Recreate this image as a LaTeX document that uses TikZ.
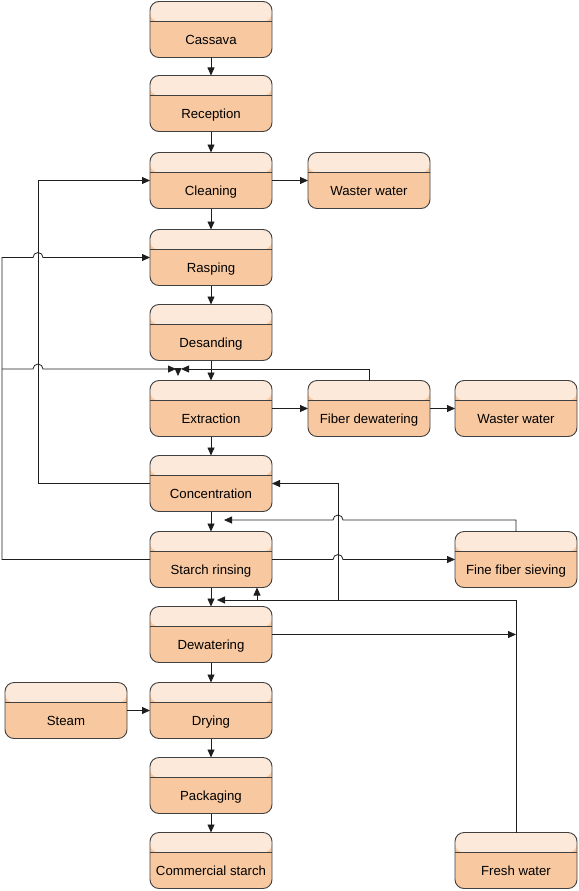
\documentclass[tikz,border=0pt]{standalone}
\usepackage{fontspec}
\setmainfont{Liberation Sans}
\usetikzlibrary{arrows.meta}
\usetikzlibrary{calc,positioning}

\definecolor{bandTop}{RGB}{252,233,218}
\definecolor{bandBody}{RGB}{248,200,160}
\definecolor{boxLine}{RGB}{64,64,64}
\definecolor{flowLine}{RGB}{30,30,30}

\begin{document}
\begin{tikzpicture}[x=1pt,y=-1pt]
    \def\boxWidth{122pt}
    \def\boxHeight{56pt}
    \def\bandHeight{20pt}
    \def\hop{5pt}

    \tikzstyle{stage}=[draw=boxLine,line width=0.9pt,rounded corners=9pt,fill=bandBody,
      minimum width=\boxWidth,minimum height=\boxHeight,inner sep=0pt,outer sep=0pt,
      text height=43pt,text depth=13pt,font=\fontsize{13.2pt}{15pt}\selectfont,
      path picture={
        \fill[bandTop] (path picture bounding box.north west) rectangle ([yshift=-\bandHeight]path picture bounding box.north east);
        \draw[boxLine,line width=0.9pt] ([yshift=-\bandHeight]path picture bounding box.north west) -- ([yshift=-\bandHeight]path picture bounding box.north east);
      }]

    \tikzstyle{flow}=[draw=flowLine,line width=0.8pt,-{Triangle[length=8pt,width=7pt]}]

    \useasboundingbox (0,0) rectangle (578,891);

    % Main line
    \node[stage] (cassava) at (211,29.5) {Cassava};
    \node[stage] (reception) at (211,103.5) {Reception};
    \node[stage] (cleaning) at (211,180.5) {Cleaning};
    \node[stage] (rasping) at (211,257.5) {Rasping};
    \node[stage] (desanding) at (211,332.5) {Desanding};
    \node[stage] (extraction) at (211,408.5) {Extraction};
    \node[stage] (concentration) at (211,483.5) {Concentration};
    \node[stage] (rinsing) at (211,559.5) {Starch rinsing};
    \node[stage] (dewatering) at (211,634.5) {Dewatering};
    \node[stage] (drying) at (211,710.5) {Drying};
    \node[stage] (packaging) at (211,785.5) {Packaging};
    \node[stage] (starch) at (211,860.5) {Commercial starch};

    % Side stages
    \node[stage] (wasteA) at (369,180.5) {Waster water};
    \node[stage] (fiberdew) at (369,408.5) {Fiber dewatering};
    \node[stage] (wasteB) at (516,408.5) {Waster water};
    \node[stage] (finefiber) at (516,559.5) {Fine fiber sieving};
    \node[stage] (fresh) at (516,860.5) {Fresh water};
    \node[stage] (steam) at (66,710.5) {Steam};

    % Buses and inlets
    \coordinate (leftBus) at (2,0);
    \coordinate (backBus) at (38,0);
    \coordinate (waterBus) at (338,0);
    \coordinate (washUp) at (257,0);
    \coordinate (pulpIn) at (178,369);
    \coordinate (milkIn) at (224,520);
    \coordinate (washIn) at (217,600);

    % Main flow
    \foreach \a/\b in {cassava/reception,reception/cleaning,cleaning/rasping,rasping/desanding,
      desanding/extraction,extraction/concentration,concentration/rinsing,rinsing/dewatering,
      dewatering/drying,drying/packaging,packaging/starch}
      \draw[flow] (\a) -- (\b);

    % Side outputs
    \draw[flow] (cleaning) -- (wasteA);
    \draw[flow] (extraction) -- (fiberdew);
    \draw[flow] (fiberdew) -- (wasteB);
    \draw[flow] (steam) -- (drying);

    % Recycle loops
    \draw[flow] (concentration.west) -- (concentration.west -| backBus) -- (cleaning.west -| backBus) -- (cleaning.west);
    \draw[flow] (rinsing.west) -- (rinsing.west -| leftBus) -- (rasping.west -| leftBus)
      -- ([xshift=-\hop]rasping.west -| backBus) arc[start angle=180,end angle=0,radius=\hop] -- (rasping.west);
    \draw[flow] (pulpIn -| leftBus) -- ([xshift=-\hop]pulpIn -| backBus) arc[start angle=180,end angle=0,radius=\hop]
      -- ([xshift=-2pt]pulpIn);
    \draw[flow] (fiberdew.north) |- ([xshift=3pt]pulpIn);
    \draw[flow] (pulpIn) -- ++(0,7);
    \draw[flow] (finefiber.north) -- (finefiber.north |- milkIn)
      -- ([xshift=\hop]milkIn -| waterBus) arc[start angle=0,end angle=180,radius=\hop] -- (milkIn);
    \draw[flow] (rinsing.east) -- ([xshift=-\hop]rinsing.east -| waterBus) arc[start angle=180,end angle=0,radius=\hop]
      -- (finefiber.west);

    % Fresh water
    \draw[flow] (fresh.north) |- (washIn);
    \draw[flow] (washIn -| waterBus) |- (concentration.east);
    \draw[flow] (washIn -| washUp) -- (rinsing.south -| washUp);
    \draw[flow] (dewatering.east) -- (dewatering.east -| fresh.north);
\end{tikzpicture}
\end{document}
